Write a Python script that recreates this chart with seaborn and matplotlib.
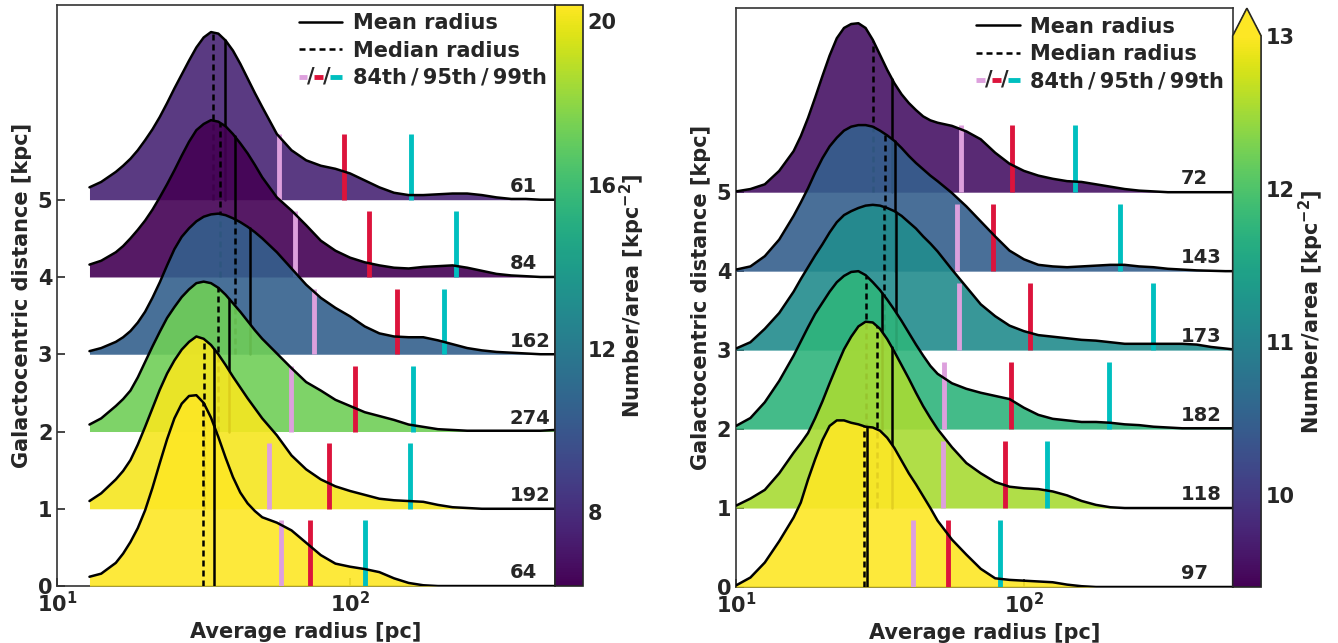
import numpy as np
import matplotlib
matplotlib.use("Agg")
import matplotlib.pyplot as plt
from matplotlib.colors import Normalize
from matplotlib.cm import ScalarMappable
from matplotlib.legend_handler import HandlerBase
from matplotlib.lines import Line2D
from matplotlib.text import Text
from matplotlib.ticker import NullLocator
import seaborn as sns

# ---------------- data ----------------
# log10(radius / pc) grid on which ridge heights were read
LOG_R_LEFT = [1.11, 1.15, 1.20, 1.225, 1.25, 1.275, 1.30, 1.325, 1.35, 1.375, 1.40, 1.425, 1.45, 1.475,
              1.50, 1.525, 1.55, 1.575, 1.60, 1.625, 1.65, 1.675, 1.70, 1.75, 1.80, 1.85, 1.90, 1.95,
              2.00, 2.05, 2.10, 2.15, 2.20, 2.25, 2.30, 2.35, 2.40, 2.45, 2.50, 2.55, 2.60, 2.65, 2.70]
# ridge heights (kpc units above each baseline), rows 0..5 bottom -> top
LEFT_H = [
    [0.12, 0.16, 0.30, 0.42, 0.57, 0.75, 0.98, 1.27, 1.59, 1.90, 2.17, 2.36, 2.46, 2.47, 2.37, 2.18, 1.93,
     1.66, 1.41, 1.21, 1.07, 0.97, 0.89, 0.82, 0.72, 0.56, 0.40, 0.29, 0.25, 0.22, 0.18, 0.10, 0.04, 0.01,
     0, 0, 0, 0, 0, 0, 0, 0, 0],
    [0.10, 0.20, 0.38, 0.49, 0.63, 0.83, 1.06, 1.30, 1.54, 1.75, 1.92, 2.06, 2.16, 2.23, 2.20, 2.12, 2.00,
     1.86, 1.71, 1.57, 1.43, 1.30, 1.17, 0.95, 0.69, 0.51, 0.38, 0.29, 0.23, 0.18, 0.13, 0.11, 0.10, 0.09,
     0.05, 0.02, 0.01, 0, 0, 0, 0, 0, 0],
    [0.09, 0.17, 0.33, 0.42, 0.53, 0.70, 0.90, 1.10, 1.29, 1.47, 1.61, 1.74, 1.84, 1.92, 1.94, 1.92, 1.86,
     1.77, 1.66, 1.55, 1.43, 1.31, 1.20, 1.01, 0.82, 0.64, 0.53, 0.41, 0.33, 0.25, 0.20, 0.15, 0.09, 0.06,
     0.03, 0.02, 0.01, 0.01, 0.01, 0.01, 0.01, 0.01, 0.02],
    [0.04, 0.08, 0.16, 0.22, 0.30, 0.41, 0.55, 0.73, 0.93, 1.15, 1.36, 1.52, 1.63, 1.72, 1.78, 1.81, 1.82,
     1.80, 1.76, 1.71, 1.65, 1.58, 1.50, 1.32, 1.11, 0.90, 0.73, 0.60, 0.49, 0.36, 0.27, 0.23, 0.22, 0.22,
     0.18, 0.13, 0.08, 0.05, 0.03, 0.02, 0.01, 0, 0],
    [0.16, 0.21, 0.32, 0.40, 0.50, 0.61, 0.73, 0.87, 1.03, 1.20, 1.38, 1.57, 1.75, 1.90, 1.98, 2.03, 2.01,
     1.95, 1.85, 1.73, 1.60, 1.45, 1.29, 1.03, 0.86, 0.67, 0.47, 0.34, 0.25, 0.19, 0.15, 0.12, 0.11, 0.13,
     0.14, 0.15, 0.12, 0.08, 0.04, 0.02, 0.01, 0, 0],
    [0.16, 0.23, 0.36, 0.44, 0.53, 0.64, 0.77, 0.91, 1.07, 1.25, 1.44, 1.62, 1.80, 1.97, 2.10, 2.17, 2.15,
     2.06, 1.93, 1.76, 1.57, 1.38, 1.20, 0.85, 0.64, 0.51, 0.44, 0.40, 0.34, 0.25, 0.16, 0.09, 0.06, 0.06,
     0.07, 0.08, 0.08, 0.06, 0.03, 0.01, 0.01, 0, 0],
]
LEFT_DENSITY = [20.4, 20.2, 17.3, 10.5, 6.2, 7.6]
LEFT_COUNTS = [64, 192, 274, 162, 84, 61]
LEFT_MEAN = [34.2, 34.3, 38.7, 45.5, 40.3, 37.4]
LEFT_MEDIAN = [31.5, 31.7, 35.3, 40.3, 35.9, 34.1]
LEFT_P84 = [58.0, 53.0, 62.8, 75.5, 64.6, 57.4]
LEFT_P95 = [72.9, 84.5, 103.8, 145.0, 116.0, 95.1]
LEFT_P99 = [112.5, 160.0, 163.7, 209.0, 229.6, 161.5]

LOG_R_RIGHT = [1.00, 1.05, 1.10, 1.15, 1.20, 1.225, 1.25, 1.275, 1.30, 1.325, 1.35, 1.375, 1.40, 1.425,
               1.45, 1.475, 1.50, 1.525, 1.55, 1.575, 1.60, 1.625, 1.65, 1.675, 1.70, 1.75, 1.80, 1.85,
               1.90, 1.95, 2.00, 2.05, 2.10, 2.15, 2.20, 2.25, 2.30, 2.35, 2.40, 2.45, 2.50, 2.55, 2.60,
               2.65, 2.70, 2.725]
RIGHT_H = [
    [0.02, 0.12, 0.31, 0.58, 0.88, 1.07, 1.36, 1.62, 1.86, 2.04, 2.11, 2.11, 2.08, 2.06, 2.03, 2.02, 1.98,
     1.89, 1.76, 1.60, 1.44, 1.30, 1.15, 1.00, 0.84, 0.60, 0.41, 0.23, 0.11, 0.09, 0.08, 0.07, 0.06, 0.03,
     0.01, 0, 0, 0, 0, 0, 0, 0, 0, 0, 0, 0],
    [0.03, 0.12, 0.23, 0.44, 0.70, 0.82, 0.95, 1.14, 1.35, 1.58, 1.80, 2.01, 2.17, 2.30, 2.36, 2.35, 2.27,
     2.14, 1.98, 1.81, 1.64, 1.46, 1.29, 1.14, 1.00, 0.77, 0.57, 0.44, 0.33, 0.27, 0.25, 0.24, 0.21, 0.16,
     0.09, 0.04, 0.01, 0, 0, 0, 0, 0, 0, 0, 0, 0],
    [0.04, 0.14, 0.34, 0.61, 0.93, 1.11, 1.29, 1.46, 1.60, 1.74, 1.86, 1.94, 1.99, 2.00, 1.95, 1.86, 1.76,
     1.64, 1.51, 1.37, 1.22, 1.07, 0.93, 0.80, 0.70, 0.58, 0.51, 0.46, 0.42, 0.38, 0.27, 0.18, 0.13, 0.11,
     0.09, 0.09, 0.08, 0.06, 0.05, 0.03, 0.02, 0.01, 0.01, 0.01, 0.01, 0.01],
    [0.02, 0.10, 0.27, 0.47, 0.74, 0.90, 1.05, 1.20, 1.34, 1.49, 1.62, 1.71, 1.76, 1.80, 1.83, 1.84, 1.83,
     1.80, 1.76, 1.70, 1.62, 1.54, 1.44, 1.35, 1.25, 1.02, 0.80, 0.58, 0.43, 0.31, 0.24, 0.19, 0.17, 0.15,
     0.13, 0.12, 0.10, 0.08, 0.08, 0.08, 0.08, 0.08, 0.07, 0.04, 0.02, 0.01],
    [0.02, 0.06, 0.19, 0.40, 0.70, 0.87, 1.05, 1.25, 1.43, 1.58, 1.69, 1.78, 1.83, 1.85, 1.85, 1.83, 1.78,
     1.72, 1.65, 1.56, 1.46, 1.37, 1.29, 1.21, 1.14, 0.99, 0.82, 0.63, 0.44, 0.26, 0.15, 0.08, 0.06, 0.05,
     0.06, 0.07, 0.08, 0.08, 0.06, 0.05, 0.03, 0.02, 0.01, 0.005, 0, 0],
    [0.01, 0.04, 0.10, 0.27, 0.52, 0.71, 0.94, 1.20, 1.47, 1.73, 1.95, 2.08, 2.13, 2.14, 2.08, 1.93, 1.74,
     1.55, 1.38, 1.24, 1.13, 1.04, 0.96, 0.91, 0.88, 0.84, 0.77, 0.67, 0.50, 0.36, 0.27, 0.21, 0.17, 0.14,
     0.13, 0.10, 0.07, 0.04, 0.02, 0.01, 0, 0, 0, 0, 0, 0],
]
RIGHT_DENSITY = [13.6, 12.53, 11.74, 11.13, 10.48, 9.58]
RIGHT_COUNTS = [97, 118, 182, 173, 143, 72]
RIGHT_MEAN = [28.5, 34.7, 32.1, 35.9, 35.6, 34.8]
RIGHT_MEDIAN = [27.8, 30.8, 28.3, 32.6, 32.9, 30.0]
RIGHT_P84 = [41.3, 52.2, 52.8, 59.6, 58.6, 60.3]
RIGHT_P95 = [54.3, 86.1, 89.9, 105.2, 78.2, 91.0]
RIGHT_P99 = [82.6, 119.9, 197.7, 279.7, 215.4, 150.7]

PCT_COLORS = ["plum", "crimson", "c"]
DASHES = (2.4, 1.6)

sns.set_style("ticks")
plt.rcParams.update({
    "font.family": ["DejaVu Sans"],
    "font.weight": "bold",
    "axes.labelweight": "bold",
    "mathtext.default": "bf",
    "font.size": 15,
})


class PctKey:
    pass


class PctHandler(HandlerBase):
    def create_artists(self, legend, orig_handle, xdescent, ydescent, width, height, fontsize, trans):
        y = height / 2 - ydescent
        x0 = -xdescent
        arts = []
        for (a, b), col in zip([(0.0, 0.2), (0.36, 0.56), (0.72, 1.0)], PCT_COLORS):
            arts.append(Line2D([x0 + a * width, x0 + b * width], [y, y], color=col, lw=3.5,
                               solid_capstyle="butt", transform=trans))
        for xs in (0.28, 0.64):
            arts.append(Text(x0 + xs * width, y, "/", ha="center", va="center", fontsize=fontsize,
                             fontweight="bold", transform=trans))
        return arts


def draw_panel(ax, cax, log_grid, heights, density, vmin, vmax, extend, cticks,
               means, medians, p84, p95, p99, counts, xmax, ymax):
    cmap = plt.get_cmap("viridis")
    norm = Normalize(vmin, vmax)
    radius = 10 ** np.array(log_grid)
    ax.set_xscale("log")
    for i in reversed(range(len(heights))):
        z = 10 + (6 - i) * 5
        h = np.array(heights[i])
        top = i + h
        ax.fill_between(radius, i, top, color=cmap(norm(density[i])), alpha=0.9, lw=0, zorder=z)
        sns.lineplot(x=radius, y=top, ax=ax, color="k", linewidth=1.8, zorder=z + 3,
                     estimator=None, sort=False)
        for val, dashed in ((means[i], False), (medians[i], True)):
            ytop = i + np.interp(np.log10(val), log_grid, h)
            ln, = ax.plot([val, val], [i, ytop], color="k", lw=1.8, zorder=z + 1)
            if dashed:
                ln.set_dashes(DASHES)
        for val, col in zip((p84[i], p95[i], p99[i]), PCT_COLORS):
            ax.plot([val, val], [i, i + 0.85], color=col, lw=3.5, zorder=z + 2, solid_capstyle="butt")
        ax.text(350, i + 0.1, str(counts[i]), fontsize=14, fontweight="bold",
                ha="left", va="baseline", zorder=200)

    ax.set_xlim(10, xmax)
    ax.set_ylim(0, ymax)
    ax.set_yticks(range(6))
    ax.xaxis.set_minor_locator(NullLocator())
    ax.tick_params(direction="in", length=6, width=1.2, labelsize=15)
    ax.set_xlabel("Average radius [pc]", fontsize=15, fontweight="bold")
    ax.set_ylabel("Galactocentric distance [kpc]", fontsize=15, fontweight="bold")
    for sp in ax.spines.values():
        sp.set_linewidth(1.2)
        sp.set_color("#333333")

    handles = [Line2D([], [], color="k", lw=1.8),
               Line2D([], [], color="k", lw=1.8, dashes=DASHES),
               PctKey()]
    labels = ["Mean radius", "Median radius", "84th\u2009/\u200995th\u2009/\u200999th"]
    leg = ax.legend(handles, labels, handler_map={PctKey: PctHandler()}, loc="upper right",
                    frameon=False, prop={"weight": "bold", "size": 15}, handlelength=2.1,
                    handletextpad=0.5, labelspacing=0.35, borderaxespad=0.0)
    leg.set_zorder(300)

    sm = ScalarMappable(norm=norm, cmap=cmap)
    cb = plt.gcf().colorbar(sm, cax=cax, extend=extend, ticks=cticks)
    cb.set_label("Number/area [kpc$^{-2}$]", fontsize=15, fontweight="bold", labelpad=1)
    cb.ax.tick_params(direction="in", length=6, width=1.2, labelsize=15)
    cb.outline.set_linewidth(1.2)


fig = plt.figure(figsize=(13.38, 6.43), dpi=100)
ax_l = fig.add_axes([0.0428, 0.0886, 0.3720, 0.9036])
cax_l = fig.add_axes([0.4148, 0.0886, 0.0209, 0.9036])
ax_r = fig.add_axes([0.5501, 0.0871, 0.3712, 0.9001])
cax_r = fig.add_axes([0.9213, 0.0871, 0.0212, 0.9001])

draw_panel(ax_l, cax_l, LOG_R_LEFT, LEFT_H, LEFT_DENSITY, 6.2, 20.4, "neither", [8, 12, 16, 20],
           LEFT_MEAN, LEFT_MEDIAN, LEFT_P84, LEFT_P95, LEFT_P99, LEFT_COUNTS, 501, 7.52)
draw_panel(ax_r, cax_r, LOG_R_RIGHT, RIGHT_H, RIGHT_DENSITY, 9.4, 13.0, "max", [10, 11, 12, 13],
           RIGHT_MEAN, RIGHT_MEDIAN, RIGHT_P84, RIGHT_P95, RIGHT_P99, RIGHT_COUNTS, 531, 7.33)

fig.savefig("out.png", dpi=100)
